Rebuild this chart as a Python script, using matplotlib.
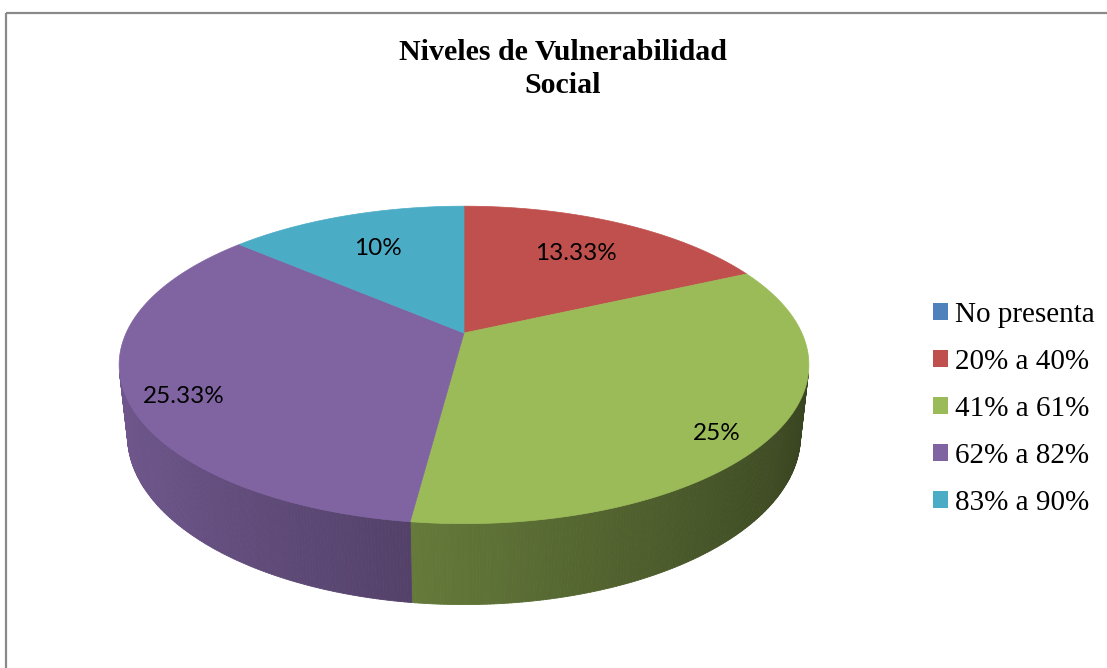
import numpy as np
import matplotlib.pyplot as plt
from matplotlib.collections import PolyCollection
from matplotlib.patches import Patch, Rectangle
from matplotlib.colors import to_rgb

W, H = 1107, 668

# datos del grafico
categorias = ["No presenta", "20% a 40%", "41% a 61%", "62% a 82%", "83% a 90%"]
valores = [0, 13.33, 25, 25.33, 10]
colores = ["#4F81BD", "#C0504D", "#9BBB59", "#8064A2", "#4BACC6"]
titulo = "Niveles de Vulnerabilidad\nSocial"

# camara / perspectiva (en pixeles)
CX, CY = 464, 333
FOC = 1500
DIST = 4.44
PHI = np.radians(26.8)
GROSOR = 0.236
S, C = np.sin(PHI), np.cos(PHI)

# posicion de las etiquetas (radio, altura) por porcion
etq_r = [0.69, 0.69, 0.84, 0.84, 0.69]
etq_z = [0.0, 0.0, -0.05, -0.05, 0.0]


def proyectar(x, y, z):
    yc = y * S + z * C
    d = DIST + y * C - z * S
    return CX + FOC * x / d, CY - FOC * yc / d


def sombra(t):
    # luz desde la izquierda
    return np.clip(0.62 - 0.26 * np.cos(t), 0.25, 1.0)


fig = plt.figure(figsize=(W / 100, H / 100), dpi=100)
ax = fig.add_axes([0, 0, 1, 1])
ax.set_xlim(0, W)
ax.set_ylim(H, 0)
ax.axis("off")

total = sum(valores)
acum = np.concatenate([[0], np.cumsum(valores)])
t_ini = np.radians(90 - acum[:-1] / total * 360)
t_fin = np.radians(90 - acum[1:] / total * 360)

# paredes laterales visibles
polys, cols = [], []
for i, v in enumerate(valores):
    if v <= 0:
        continue
    n = max(int(np.degrees(t_ini[i] - t_fin[i]) * 2), 2)
    ts = np.linspace(t_fin[i], t_ini[i], n + 1)
    base = np.array(to_rgb(colores[i]))
    for a, b in zip(ts[:-1], ts[1:]):
        m = 0.5 * (a + b)
        if -DIST * C * np.sin(m) - 1 <= 0:
            continue
        p1 = proyectar(np.cos(a), np.sin(a), 0)
        p2 = proyectar(np.cos(b), np.sin(b), 0)
        p3 = proyectar(np.cos(b), np.sin(b), -GROSOR)
        p4 = proyectar(np.cos(a), np.sin(a), -GROSOR)
        polys.append([p1, p2, p3, p4])
        cols.append(base * sombra(m))
ax.add_collection(PolyCollection(polys, facecolors=cols, edgecolors=cols, linewidths=0.6))

# caras superiores
for i, v in enumerate(valores):
    if v <= 0:
        continue
    ts = np.linspace(t_ini[i], t_fin[i], 200)
    xs, ys = proyectar(np.cos(ts), np.sin(ts), 0)
    x0, y0 = proyectar(0, 0, 0)
    ax.fill(np.r_[x0, xs], np.r_[y0, ys], color=colores[i], lw=0.5)

# etiquetas de datos
for i, v in enumerate(valores):
    if v <= 0:
        continue
    m = 0.5 * (t_ini[i] + t_fin[i])
    lx, ly = proyectar(etq_r[i] * np.cos(m), etq_r[i] * np.sin(m), etq_z[i])
    ax.text(lx, ly, f"{v:g}%", ha="center", va="center", fontsize=17.5,
            family=["Lato", "DejaVu Sans"], color="black")

ax.text(563, 69, titulo, ha="center", va="center", fontsize=21.5, fontweight="bold",
        family=["Liberation Serif", "DejaVu Serif"], linespacing=1.25)

handles = [Patch(facecolor=c, edgecolor="none") for c in colores]
fig.legend(handles, categorias, loc="center left", bbox_to_anchor=(933 / W, 1 - 409 / H),
           frameon=False, borderpad=0, borderaxespad=0, handlelength=0.5, handleheight=0.5,
           handletextpad=0.25, labelspacing=0.72,
           prop={"family": ["Liberation Serif", "DejaVu Serif"], "size": 21})

ax.add_patch(Rectangle((6, 13), W + 20, H + 20, fill=False, edgecolor="#898989", lw=1.6))

fig.savefig("out.png", dpi=100)
